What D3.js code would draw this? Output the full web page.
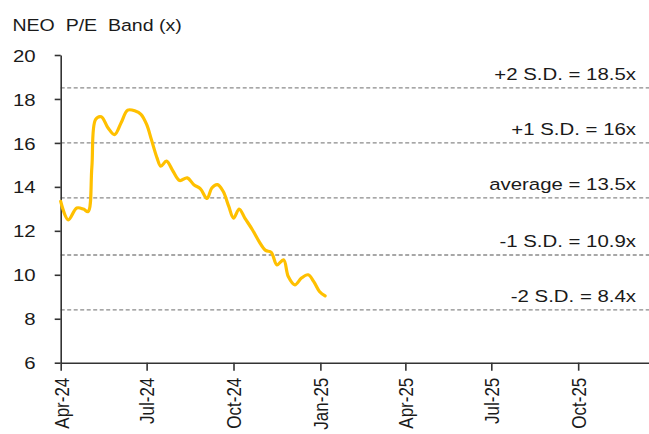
<!DOCTYPE html>
<html>
<head>
<meta charset="utf-8">
<script src="https://cdn.jsdelivr.net/npm/d3@7"></script>
<style>
  body { margin: 0; background: #fff; }
  text { font-family: "Liberation Sans", Arial, sans-serif; fill: #1a1a1a; }
</style>
</head>
<body>
<div id="container"></div>
<script>
const dates = ["2024-04-01","2024-04-09","2024-04-18","2024-04-25","2024-04-30","2024-05-04","2024-05-08",
  "2024-05-14","2024-05-21","2024-05-28","2024-06-04","2024-06-11","2024-06-19","2024-06-25","2024-07-01",
  "2024-07-06","2024-07-12","2024-07-16","2024-07-22","2024-07-29","2024-08-05","2024-08-13","2024-08-20",
  "2024-08-27","2024-09-03","2024-09-08","2024-09-14","2024-09-20","2024-09-26","2024-10-01","2024-10-07",
  "2024-10-13","2024-10-21","2024-10-28","2024-11-04","2024-11-10","2024-11-16","2024-11-23","2024-11-28",
  "2024-12-05","2024-12-12","2024-12-19","2024-12-25","2024-12-31","2025-01-06"]
const peValues = [13.34,12.5,13.04,12.99,12.88,14.9,17.07,
  17.19,16.69,16.38,16.92,17.49,17.45,17.3,16.84,
  16.16,15.32,14.94,15.17,14.71,14.29,14.41,14.1,
  13.91,13.47,13.95,14.1,13.8,13.11,12.58,12.99,
  12.58,12.05,11.52,11.11,11.02,10.45,10.68,9.92,
  9.54,9.85,10.0,9.69,9.24,9.04]

const bandLabels = ["+2 S.D. = 18.5x", "+1 S.D. = 16x", "average = 13.5x", "-1 S.D. = 10.9x", "-2 S.D. = 8.4x"]
const bandValues = [18.5, 16, 13.5, 10.9, 8.4]

const yTicks = [6, 8, 10, 12, 14, 16, 18, 20]
const xTicks = ["2024-04-01","2024-07-01","2024-10-01","2025-01-01","2025-04-01","2025-07-01","2025-10-01"]

const width = 649
const height = 434
const sx = 1.2 // the picture is a bit wide

const parse = d3.timeParse("%Y-%m-%d")
const data = dates.map((d, i) => ({ date: parse(d), value: peValues[i] }))

const svg = d3.select("#container").append("svg")
    .attr("width", width)
    .attr("height", height)

const x = d3.scaleTime()
    .domain([parse("2024-04-01"), parse("2025-12-15")])
    .range([60.7, 649])

const y = d3.scaleLinear()
    .domain([6, 20])
    .range([362.7, 55])

// title
svg.append("text")
    .attr("transform", `translate(12.5,30.5) scale(1.15,1)`)
    .attr("font-size", 17)
    .style("white-space", "pre")
    .text("NEO  P/E  Band (x)")

// band lines
svg.selectAll(".band")
    .data(bandValues)
    .enter().append("line")
    .attr("class", "band")
    .attr("x1", x.range()[0])
    .attr("x2", width)
    .attr("y1", d => y(d))
    .attr("y2", d => y(d))
    .attr("stroke", "#8a8a8a")
    .attr("stroke-width", 1.3)
    .attr("stroke-dasharray", "4,2.5")

svg.selectAll(".band-label")
    .data(bandLabels)
    .enter().append("text")
    .attr("class", "band-label")
    .attr("transform", (d, i) => `translate(636,${y(bandValues[i]) - 8}) scale(${sx},1)`)
    .attr("text-anchor", "end")
    .attr("font-size", 17)
    .text(d => d)

// axes
const yAxis = svg.append("g")
    .attr("transform", `translate(${x.range()[0]},0)`)
    .call(d3.axisLeft(y).tickValues(yTicks).tickSize(6).tickSizeOuter(0).tickPadding(0))

yAxis.selectAll("text").remove()
yAxis.selectAll(".tick").append("text")
    .attr("transform", `translate(-25,0) scale(${sx},1)`)
    .attr("text-anchor", "end")
    .attr("dy", "0.36em")
    .attr("font-size", 17)
    .attr("fill", "#1a1a1a")
    .text(d => d)

const xAxis = svg.append("g")
    .attr("transform", `translate(0,${y.range()[0]})`)
    .call(d3.axisBottom(x).tickValues(xTicks.map(parse)).tickSize(8).tickSizeOuter(0))

xAxis.selectAll("text").remove()
xAxis.selectAll(".tick").append("text")
    .attr("transform", `translate(0,15) scale(${sx},1) rotate(-90)`)
    .attr("text-anchor", "end")
    .attr("dy", "0.36em")
    .attr("font-size", 17)
    .attr("fill", "#1a1a1a")
    .text(d => d3.timeFormat("%b-%y")(d))

svg.selectAll(".domain, .tick line")
    .attr("stroke", "#333")
    .attr("stroke-width", 1.6)

// the P/E line
const line = d3.line()
    .x(d => x(d.date))
    .y(d => y(d.value))
    .curve(d3.curveCatmullRom.alpha(0.5))

svg.append("path")
    .datum(data)
    .attr("fill", "none")
    .attr("stroke", "#FFC000")
    .attr("stroke-width", 3.2)
    .attr("stroke-linejoin", "round")
    .attr("stroke-linecap", "round")
    .attr("d", line)
</script>
</body>
</html>
